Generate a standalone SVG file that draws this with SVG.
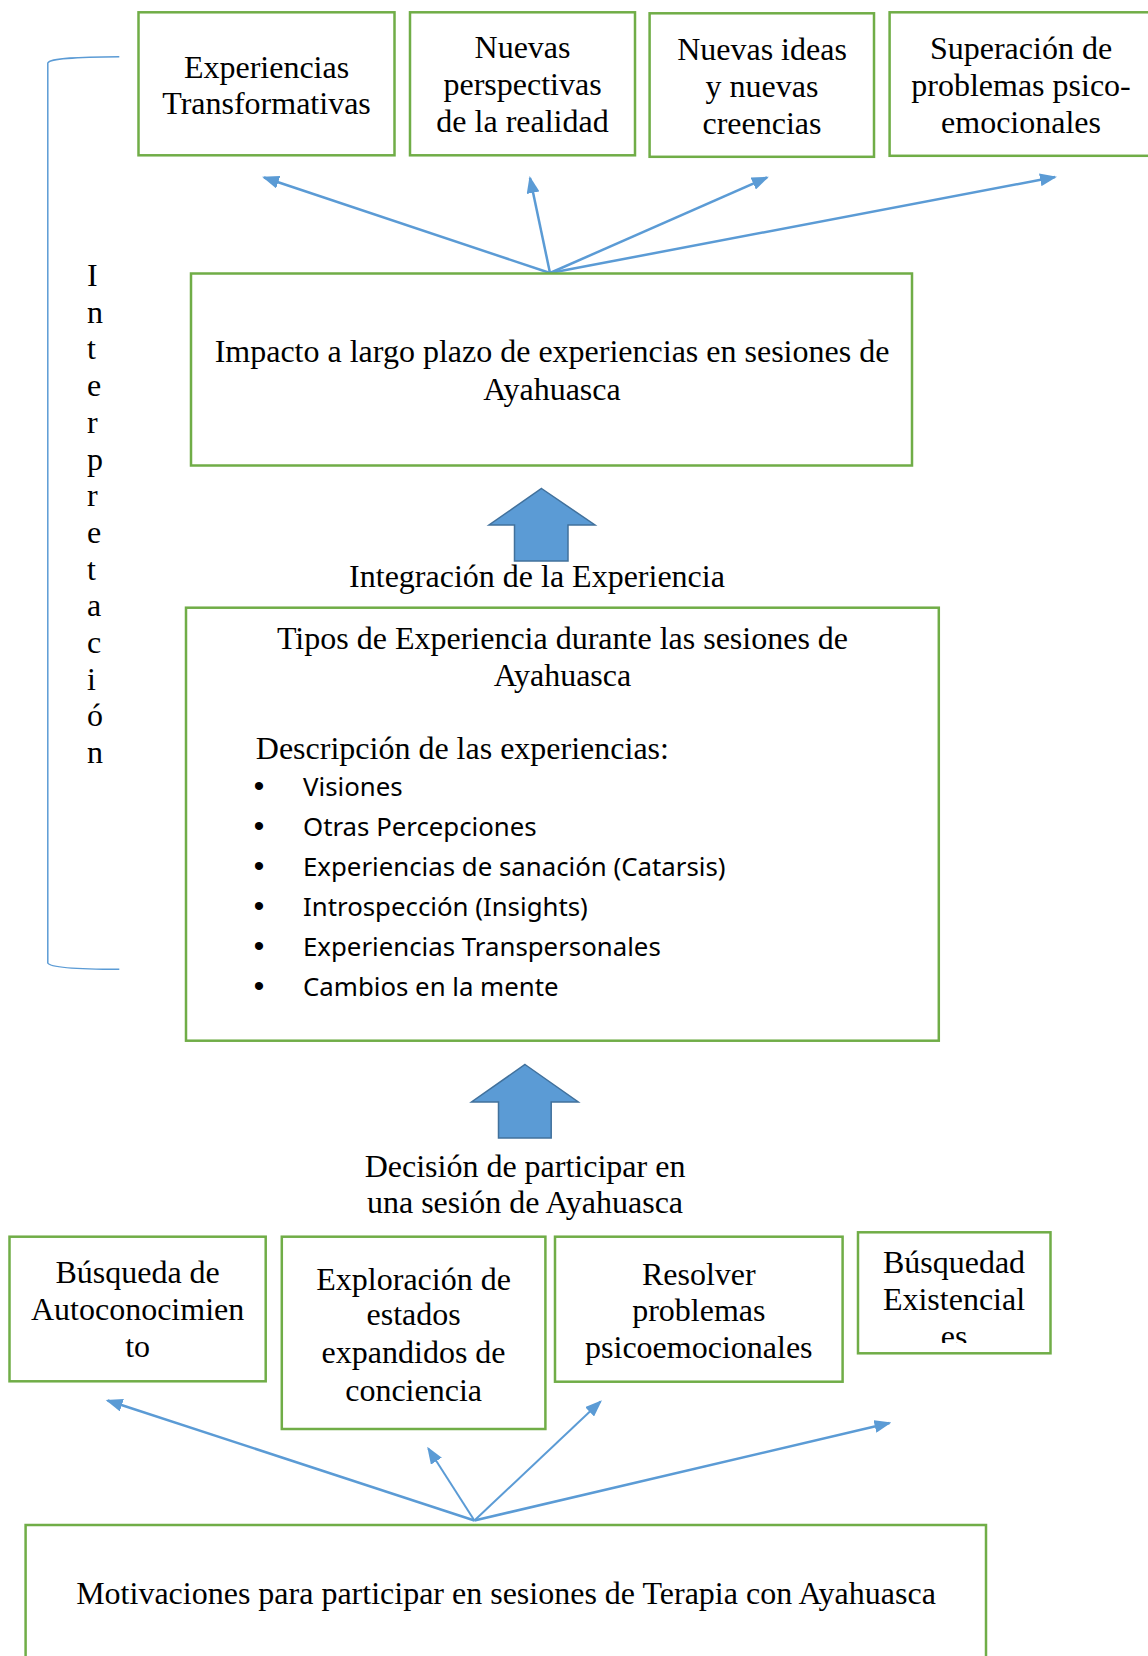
<svg xmlns="http://www.w3.org/2000/svg" width="1148" height="1656" viewBox="0 0 1148 1656">
<style>
.box{fill:#fff;stroke:#70AD47;stroke-width:2.5}
.t{font-family:"Liberation Serif","Times New Roman",serif;font-size:32px;fill:#000;text-anchor:middle}
.tl{font-family:"Liberation Serif","Times New Roman",serif;font-size:32px;fill:#000}
.it{font-family:"Noto Sans","Open Sans",sans-serif;font-size:25.8px;fill:#000}
.bul{font-family:"Liberation Sans",Arial,sans-serif;font-size:30px;fill:#000;text-anchor:middle}
.con{stroke:#5B9BD5;stroke-width:2.5;fill:none;marker-end:url(#ah)}
.con2{stroke:#5B9BD5;stroke-width:2;fill:none;marker-end:url(#ah)}
.blk{fill:#5B9BD5;stroke:#41719C;stroke-width:1.5}
</style>
<defs>
<marker id="ah" markerWidth="17" markerHeight="13" refX="15" refY="6.5" orient="auto" markerUnits="userSpaceOnUse">
<path d="M0,0 L17,6.5 L0,13 z" fill="#5B9BD5"/>
</marker>
<clipPath id="clipD"><rect x="858" y="1232" width="193" height="111"/></clipPath>
</defs>
<rect width="1148" height="1656" fill="#fff"/>

<g id="connectors">
<line class="con" x1="550" y1="273" x2="264" y2="177.5"/>
<line class="con" x1="550" y1="273" x2="530" y2="178"/>
<line class="con" x1="550" y1="273" x2="767" y2="177.5"/>
<line class="con" x1="550" y1="273" x2="1055" y2="177"/>
<line class="con" x1="474.4" y1="1520.5" x2="107.6" y2="1400.5"/>
<line class="con2" x1="474.4" y1="1520.5" x2="428.3" y2="1448.5"/>
<line class="con2" x1="474.4" y1="1520.5" x2="600.5" y2="1401.5"/>
<line class="con" x1="474.4" y1="1520.5" x2="889.5" y2="1423"/>
<path d="M119.3,56.7 C80,57 50,58 47.8,63 L47.8,963 C50,968 80,969.3 119.3,969.3" fill="none" stroke="#5B9BD5" stroke-width="1.5"/>
<polygon class="blk" points="541.5,488.5 595,525 568,525 568,561 514.5,561 514.5,525 489,525"/>
<polygon class="blk" points="525,1064.5 578.3,1102 551.2,1102 551.2,1138 498.5,1138 498.5,1102 471.5,1102"/>
</g>

<g id="interpretacion">
<text class="tl" x="87" y="286">I</text>
<text class="tl" x="87" y="322.7">n</text>
<text class="tl" x="87" y="359.4">t</text>
<text class="tl" x="87" y="396.1">e</text>
<text class="tl" x="87" y="432.8">r</text>
<text class="tl" x="87" y="469.5">p</text>
<text class="tl" x="87" y="506.2">r</text>
<text class="tl" x="87" y="542.9">e</text>
<text class="tl" x="87" y="579.6">t</text>
<text class="tl" x="87" y="616.3">a</text>
<text class="tl" x="87" y="653">c</text>
<text class="tl" x="87" y="689.7">i</text>
<text class="tl" x="87" y="726.4">ó</text>
<text class="tl" x="87" y="763.1">n</text>
</g>

<g id="n-transformativas">
<rect class="box" x="138.5" y="12.3" width="256" height="143"/>
<text class="t" x="266.5" y="77.5">Experiencias</text>
<text class="t" x="266.5" y="113.5">Transformativas</text>
</g>
<g id="n-perspectivas">
<rect class="box" x="410" y="12.3" width="225" height="143"/>
<text class="t" x="522.5" y="58">Nuevas</text>
<text class="t" x="522.5" y="95">perspectivas</text>
<text class="t" x="522.5" y="132">de la realidad</text>
</g>
<g id="n-ideas">
<rect class="box" x="649.6" y="13.3" width="224.4" height="143.5"/>
<text class="t" x="762" y="59.5">Nuevas ideas</text>
<text class="t" x="762" y="96.5">y nuevas</text>
<text class="t" x="762" y="133.5">creencias</text>
</g>
<g id="n-superacion">
<rect class="box" x="889.6" y="12.3" width="270" height="143.5"/>
<text class="t" x="1021" y="58.5">Superación de</text>
<text class="t" x="1021" y="95.5">problemas psico-</text>
<text class="t" x="1021" y="132.5">emocionales</text>
</g>

<g id="n-impacto">
<rect class="box" x="191" y="273.5" width="721" height="192"/>
<text class="t" x="552" y="362">Impacto a largo plazo de experiencias en sesiones de</text>
<text class="t" x="552" y="400">Ayahuasca</text>
</g>

<g id="l-integracion">
<text class="t" x="537" y="587">Integración de la Experiencia</text>
</g>

<g id="n-tipos">
<rect class="box" x="186" y="607.7" width="752.8" height="433"/>
<text class="t" x="562.5" y="648.5">Tipos de Experiencia durante las sesiones de</text>
<text class="t" x="562.5" y="685.5">Ayahuasca</text>
<text class="tl" x="255.8" y="759">Descripción de las experiencias:</text>
<text class="bul" x="259" y="796">•</text>
<text class="it" x="303" y="796">Visiones</text>
<text class="bul" x="259" y="836">•</text>
<text class="it" x="303" y="836">Otras Percepciones</text>
<text class="bul" x="259" y="876">•</text>
<text class="it" x="303" y="876">Experiencias de sanación (Catarsis)</text>
<text class="bul" x="259" y="916">•</text>
<text class="it" x="303" y="916">Introspección (Insights)</text>
<text class="bul" x="259" y="956">•</text>
<text class="it" x="303" y="956">Experiencias Transpersonales</text>
<text class="bul" x="259" y="996">•</text>
<text class="it" x="303" y="996">Cambios en la mente</text>
</g>

<g id="l-decision">
<text class="t" x="525" y="1177">Decisión de participar en</text>
<text class="t" x="525" y="1212.5">una sesión de Ayahuasca</text>
</g>

<g id="n-autoconocimiento">
<rect class="box" x="9.5" y="1236.7" width="256.2" height="144.6"/>
<text class="t" x="137.6" y="1283">Búsqueda de</text>
<text class="t" x="137.6" y="1320">Autoconocimien</text>
<text class="t" x="137.6" y="1357">to</text>
</g>
<g id="n-exploracion">
<rect class="box" x="281.8" y="1236.7" width="263.6" height="192.3"/>
<text class="t" x="413.6" y="1289.5">Exploración de</text>
<text class="t" x="413.6" y="1325">estados</text>
<text class="t" x="413.6" y="1363">expandidos de</text>
<text class="t" x="413.6" y="1400.5">conciencia</text>
</g>
<g id="n-resolver">
<rect class="box" x="555" y="1236.7" width="287.6" height="145"/>
<text class="t" x="698.8" y="1284.5">Resolver</text>
<text class="t" x="698.8" y="1321">problemas</text>
<text class="t" x="698.8" y="1358">psicoemocionales</text>
</g>
<g id="n-existencial">
<rect class="box" x="858" y="1232.3" width="192.5" height="121"/>
<text class="t" x="954" y="1273">Búsquedad</text>
<text class="t" x="954" y="1310">Existencial</text>
<text class="t" x="954" y="1347" clip-path="url(#clipD)">es</text>
</g>

<g id="n-motivaciones">
<rect class="box" x="25.6" y="1525" width="960.4" height="200"/>
<text class="t" x="506" y="1603.5">Motivaciones para participar en sesiones de Terapia con Ayahuasca</text>
</g>
</svg>
